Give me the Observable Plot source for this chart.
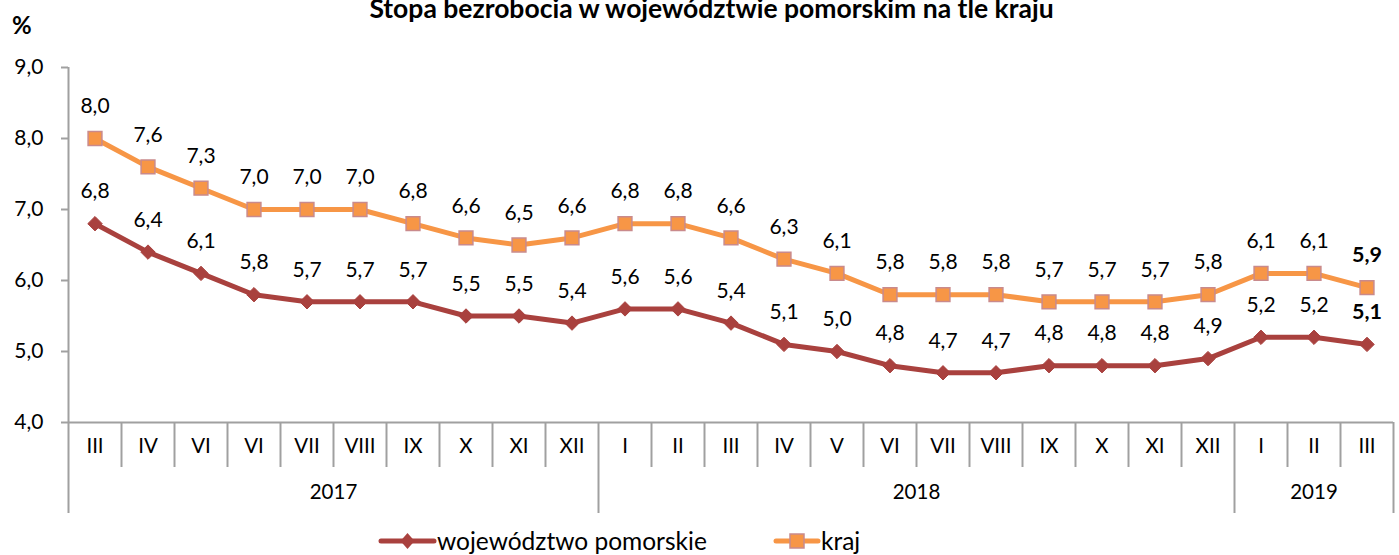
<!DOCTYPE html>
<html><head><meta charset="utf-8">
<script src="https://cdn.jsdelivr.net/npm/d3@7"></script>
<script src="https://cdn.jsdelivr.net/npm/@observablehq/plot@0.6"></script>
<style>
body{margin:0;background:#fff;font-family:Lato,"Open Sans",sans-serif;color:#000;}
#wrap{position:relative;width:1399px;height:555px;overflow:hidden;background:#fff;}
#title{position:absolute;left:0;width:1423px;top:-5px;text-align:center;font-weight:bold;font-size:26.5px;line-height:26px;white-space:nowrap;}
#pct{position:absolute;left:12px;top:12px;font-weight:bold;font-size:24px;line-height:26px;}
#chart{position:absolute;left:0;top:40px;}
.leg{position:absolute;top:527px;height:28px;display:flex;align-items:center;font-size:24.5px;line-height:28px;}
.leg svg{display:block;}
</style>
</head><body>
<div id="wrap">
  <div id="title">Stopa bezrobocia w województwie pomorskim na tle kraju</div>
  <div id="pct">%</div>
  <div id="chart"></div>
  <div class="leg" id="leg1" style="left:378px;"></div>
  <div class="leg" id="leg2" style="left:773px;"></div>
</div>
<script>
// ---- data ----
const months = ["III","IV","VI","VI","VII","VIII","IX","X","XI","XII","I","II","III","IV","V","VI","VII","VIII","IX","X","XI","XII","I","II","III"];
const yearLabels = ["2017","2018","2019"];
const yearCounts = [10, 12, 3];
const kraj = [8.0,7.6,7.3,7.0,7.0,7.0,6.8,6.6,6.5,6.6,6.8,6.8,6.6,6.3,6.1,5.8,5.8,5.8,5.7,5.7,5.7,5.8,6.1,6.1,5.9];
const pomorskie = [6.8,6.4,6.1,5.8,5.7,5.7,5.7,5.5,5.5,5.4,5.6,5.6,5.4,5.1,5.0,4.8,4.7,4.7,4.8,4.8,4.8,4.9,5.2,5.2,5.1];
const yTicks = [4,5,6,7,8,9];
const seriesNames = ["województwo pomorskie","kraj"];

// ---- styles ----
const GREY = "#a0a0a0";
const C_POM = "#a9413e";
const C_KRAJ = "#f79646";
const C_KRAJ_EDGE = "#c98a8c";
const fmt = v => v.toFixed(1).replace(".", ",");

const rows = months.map((m, i) => ({i, pos: i + 0.5, month: m, kraj: kraj[i], pom: pomorskie[i]}));
const last = rows.length - 1;
const normal = rows.filter(d => d.i !== last);
const lastRow = rows.filter(d => d.i === last);

let acc = 0;
const yearRows = yearLabels.map((y, k) => {
  const start = acc; acc += yearCounts[k];
  return {year: y, start, end: acc, center: (start + acc) / 2};
});
const yearBounds = [...new Set(yearRows.flatMap(d => [d.start, d.end]))].filter(b => b !== 0);
const monthBounds = d3.range(1, months.length).filter(b => !yearBounds.includes(b));

const chart = Plot.plot({
  width: 1399,
  height: 480,
  marginLeft: 68,
  marginRight: 6,
  marginTop: 27,
  marginBottom: 98,
  style: {fontFamily: "Lato, 'Open Sans', sans-serif", color: "#000", background: "#fff", overflow: "visible"},
  x: {type: "linear", domain: [0, months.length], axis: null},
  y: {domain: [4, 9], axis: null},
  marks: [
    Plot.ruleY([4], {stroke: GREY, strokeWidth: 2}),
    Plot.ruleX([0], {y1: 9, y2: 4, insetBottom: -91, stroke: GREY, strokeWidth: 2}),
    Plot.ruleX(monthBounds, {y1: 4, y2: 4, insetBottom: -45, stroke: GREY, strokeWidth: 2}),
    Plot.ruleX(yearBounds, {y1: 4, y2: 4, insetBottom: -91, stroke: GREY, strokeWidth: 2}),
    Plot.axisY(yTicks, {tickSize: 7, tickPadding: 18, tickFormat: fmt, fontSize: 21, stroke: GREY, strokeWidth: 2}),
    Plot.text(rows, {x: "pos", text: "month", frameAnchor: "bottom", dy: 30, fontSize: 20.5}),
    Plot.text(yearRows, {x: "center", text: "year", frameAnchor: "bottom", dy: 76, fontSize: 20.5}),
    Plot.line(rows, {x: "pos", y: "pom", stroke: C_POM, strokeWidth: 5}),
    Plot.dot(rows, {x: "pos", y: "pom", symbol: "diamond2", r: 6.5, fill: C_POM, stroke: C_POM, strokeWidth: 1}),
    Plot.line(rows, {x: "pos", y: "kraj", stroke: C_KRAJ, strokeWidth: 5}),
    Plot.dot(rows, {x: "pos", y: "kraj", symbol: "square", r: 7.8, fill: C_KRAJ, stroke: C_KRAJ_EDGE, strokeWidth: 1.5}),
    Plot.text(normal, {x: "pos", y: "kraj", text: d => fmt(d.kraj), dy: -32, fontSize: 21}),
    Plot.text(normal, {x: "pos", y: "pom", text: d => fmt(d.pom), dy: -32, fontSize: 21}),
    Plot.text(lastRow, {x: "pos", y: "kraj", text: d => fmt(d.kraj), dy: -32, fontSize: 21.5, fontWeight: "bold"}),
    Plot.text(lastRow, {x: "pos", y: "pom", text: d => fmt(d.pom), dy: -32, fontSize: 21.5, fontWeight: "bold"})
  ]
});
document.getElementById("chart").appendChild(chart);

function swatch(color, edge, kind, w) {
  const cx = w / 2;
  const marker = kind === "square"
    ? `<rect x="${cx - 7}" y="7" width="14" height="14" fill="${color}" stroke="${edge}" stroke-width="1.5"/>`
    : `<path d="M${cx} 6 L${cx + 7} 14 L${cx} 22 L${cx - 7} 14 Z" fill="${color}"/>`;
  return `<svg width="${w}" height="28"><line x1="3" y1="14" x2="${w - 3}" y2="14" stroke="${color}" stroke-width="5" stroke-linecap="round"/>${marker}</svg>`;
}
document.getElementById("leg1").innerHTML = swatch(C_POM, C_POM, "diamond", 59) + `<span>${seriesNames[0]}</span>`;
document.getElementById("leg2").innerHTML = swatch(C_KRAJ, C_KRAJ_EDGE, "square", 48) + `<span>${seriesNames[1]}</span>`;
</script>
</body></html>
